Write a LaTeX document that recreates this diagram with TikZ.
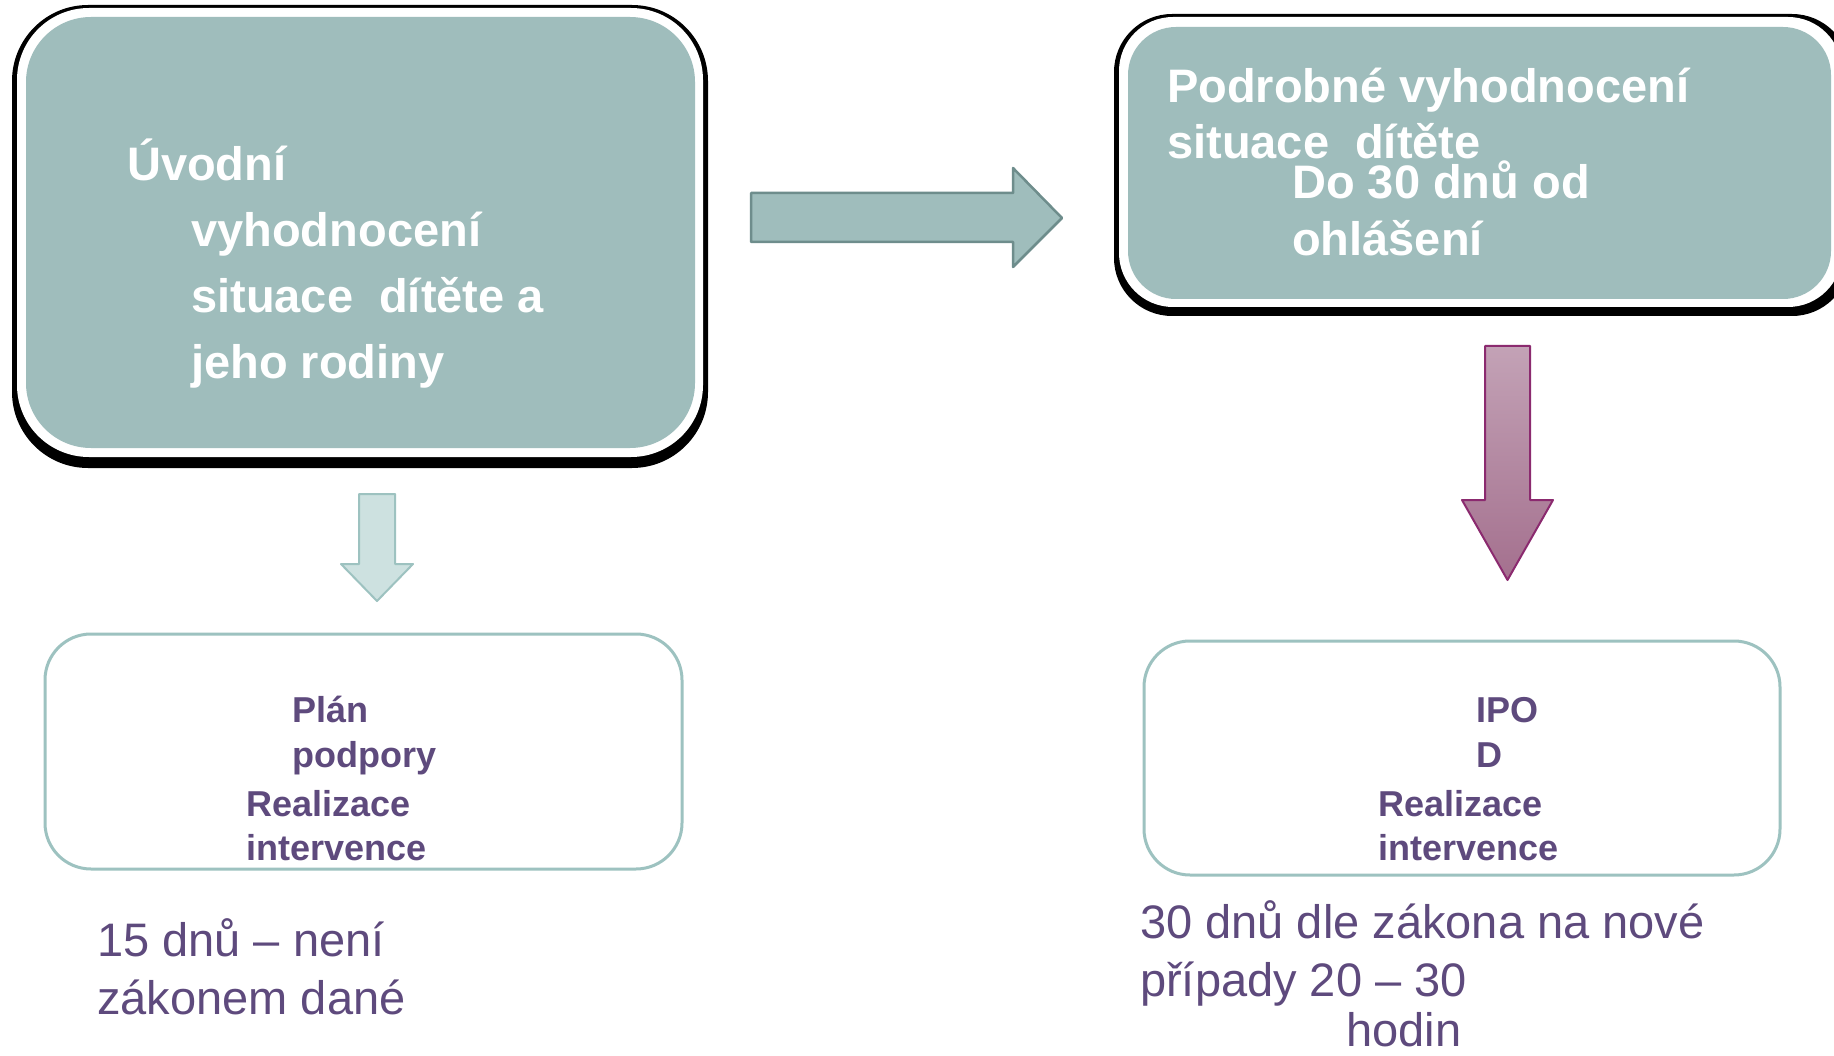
\documentclass[tikz,border=0pt]{standalone}
\usepackage{fontspec}
\setmainfont{Liberation Sans}
\definecolor{tealfill}{HTML}{9FBDBC}
\definecolor{tealdark}{HTML}{6E8D8C}
\definecolor{teallight}{HTML}{CDE1E0}
\definecolor{tealline}{HTML}{9DC2C0}
\definecolor{txtpurple}{HTML}{5E4A7D}
\definecolor{argtop}{HTML}{C3A2B6}
\definecolor{argbot}{HTML}{A4708E}
\definecolor{arline}{HTML}{8B2A6F}
\tikzset{
  headtxt/.style={anchor=base west, inner sep=0pt, text=white, font=\fontsize{47}{56}\selectfont\bfseries},
  boxtxt/.style={anchor=base west, inner sep=0pt, text=txtpurple, font=\fontsize{36}{44}\selectfont\bfseries},
  notetxt/.style={anchor=base west, inner sep=0pt, text=txtpurple, font=\fontsize{47}{56}\selectfont},
  outlinebox/.style={draw=tealline, line width=3pt, rounded corners=46pt, fill=white},
}
\begin{document}
\begin{tikzpicture}[x=1pt,y=-1pt]
\useasboundingbox (0,0) rectangle (1834,1056);
\fill[white] (0,0) rectangle (1834,1056);
\begin{scope}
\clip (0,0) rectangle (1834,1056);
% box 1
\path[fill=black, rounded corners=76pt] (12,5) rectangle (708,468);
\path[fill=white, rounded corners=72pt] (17,8) rectangle (703,457);
\path[fill=tealfill, rounded corners=65pt] (26,17) rectangle (695,448);
% box 2
\path[fill=black, rounded corners=58pt] (1114,14) rectangle (1850,316);
\path[fill=white, rounded corners=54pt] (1119,17) rectangle (1842,307);
\path[fill=tealfill, rounded corners=48pt] (1128,27) rectangle (1831,299);
\end{scope}
% bottom boxes
\path[outlinebox] (45,634) rectangle (682,869);
\path[outlinebox] (1144,641) rectangle (1780,875);
% arrows
\coordinate (ra) at (751,193);
\draw[tealdark, line width=2.5pt, fill=tealfill, line join=round]
  (ra) -- (1013,193) -- (1013,168) -- (1062,218) -- (1013,267) -- (1013,242) -- (751,242) -- cycle;
\coordinate (la) at (359,494);
\draw[tealline, line width=2pt, fill=teallight, line join=round]
  (la) -- (395,494) -- (395,564) -- (413,564) -- (377,601) -- (341,564) -- (359,564) -- cycle;
\coordinate (pa) at (1485,346);
\shade[top color=argtop, bottom color=argbot]
  (pa) -- (1530,346) -- (1530,500) -- (1553,500) -- (1507.5,580) -- (1462,500) -- (1485,500) -- cycle;
\draw[arline, line width=2pt, line join=round]
  (pa) -- (1530,346) -- (1530,500) -- (1553,500) -- (1507.5,580) -- (1462,500) -- (1485,500) -- cycle;
% box 1 text
\node[headtxt] (a1) at (127,181) {Úvodní};
\node[headtxt] (a2) at (191,247) {vyhodnocení};
\node[headtxt] (a3) at (191,313) {situace\ \ dítěte a};
\node[headtxt] (a4) at (191,379) {jeho rodiny};
% box 2 text
\node[headtxt] (b1) at (1167,103) {Podrobné vyhodnocení};
\node[headtxt] (b2) at (1167,159) {situace\ \ dítěte};
\node[headtxt] (b3) at (1292,199) {Do 30 dnů od};
\node[headtxt] (b4) at (1292,256) {ohlášení};
% bottom left box text
\node[boxtxt] (c1) at (292,722) {Plán};
\node[boxtxt] (c2) at (292,767) {podpory};
\node[boxtxt] (c3) at (246,816) {Realizace};
\node[boxtxt] (c4) at (246,860) {intervence};
% bottom right box text
\node[boxtxt] (d1) at (1476,722) {IPO};
\node[boxtxt] (d2) at (1476,767) {D};
\node[boxtxt] (d3) at (1378,816) {Realizace};
\node[boxtxt] (d4) at (1378,860) {intervence};
% notes
\node[notetxt] (e1) at (97,956) {15 dnů – není};
\node[notetxt] (e2) at (97,1014) {zákonem dané};
\node[notetxt] (f1) at (1140,938) {30 dnů dle zákona na nové};
\node[notetxt] (f2) at (1140,996) {případy 20 – 30};
\node[notetxt] (f3) at (1346,1046) {hodin};
\end{tikzpicture}
\end{document}
